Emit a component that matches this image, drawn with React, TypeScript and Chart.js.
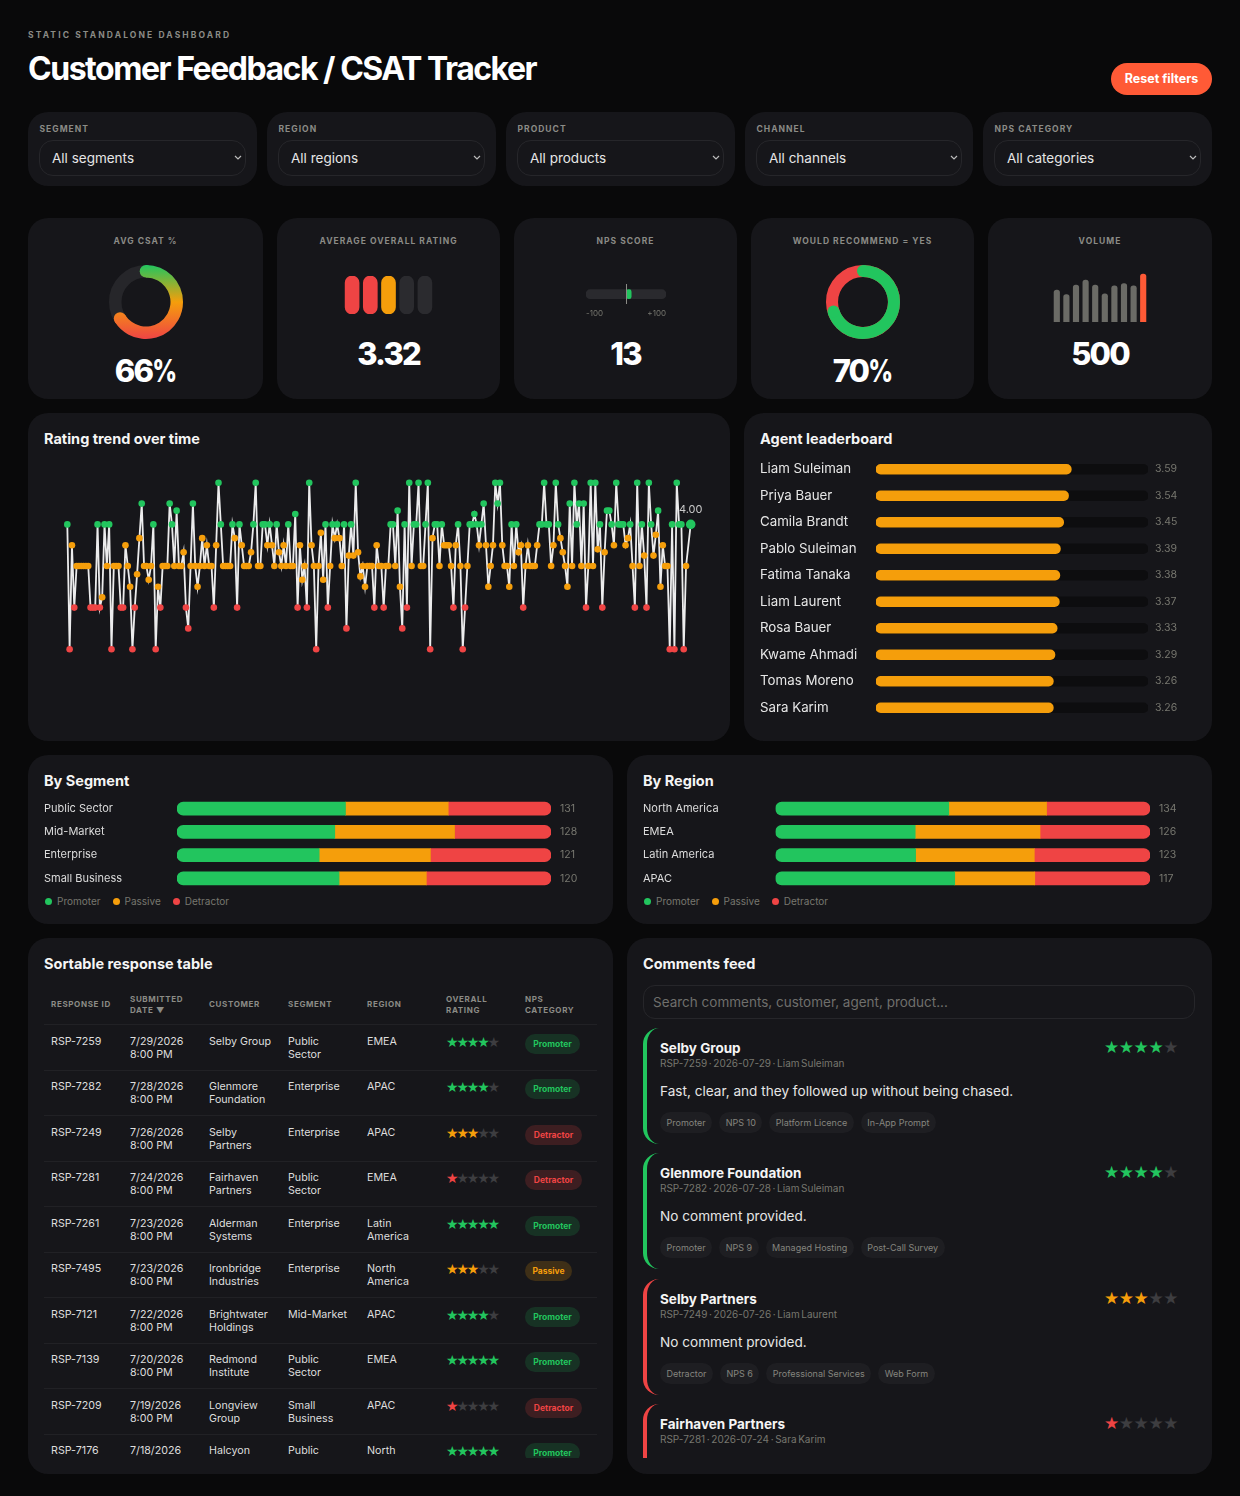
import { useEffect, useRef } from "react";
import type { CSSProperties, ReactNode } from "react";
import Chart from "chart.js/auto";

const FONT = "Inter, 'Noto Sans', sans-serif";
const GREEN = "#22c55e";
const ORANGE = "#f59e0b";
const RED = "#ef4444";
const ACCENT = "#ff5a36";
const PANEL = "#16161a";
const MUTED = "#8b8b86";

Chart.defaults.font.family = FONT;
Chart.defaults.animation = false;

const filterLabels = ["SEGMENT", "REGION", "PRODUCT", "CHANNEL", "NPS CATEGORY"];
const filterValues = ["All segments", "All regions", "All products", "All channels", "All categories"];

const csatValues = [66, 34];
const recommendValues = [70, 30];
const ratingPillValues = [1, 1, 1, 1, 1];
const ratingPillColors = [RED, RED, ORANGE, "#2b2b2f", "#2b2b2f"];
const npsScore = [13];
const npsRange: [number, number][] = [[-100, 100]];
const volumeValues = [44, 38, 51, 58, 51, 39, 50, 53, 50, 66];

// daily average rating left to right (null = no responses that day)
const ratingTrend: (number | null)[] = [
  4, 1, 3.5, 2, 3, 3, 3, 3, 3, 3, 2, 2, 2, 4, 2, 2.25, 4, 3, 4, 1, 3, 3, 3, 2, 2, 3.5, 3, 2.5, 1, 2, 2.8, 3.67, 4.5, 3, 3,
  2.67, 3, 4, 1, 2.5, 2, 3, 3, 3, 4.5, 4, 3, 4.33, 3, 3, 3.33, 2, 1.5, 3, 4.5, 3, 2.5, 3, 3.67, 3, 3.5, 3, 3, 2, 3.5, 5, 4,
  3, 3, 3, 3, 4, 3.67, 2, 4, 3.5, 3, 3, 3, 3.33, 4, 5, 3, 3, 4, 4, 3.5, 4, 3.5, 3, 4, 3.33, 3, 3.5, 3, 4, 3, 3, 4.25, 2,
  3.5, 2.67, 3, 2, 5, 3.5, 3, 1, 3, 3.8, 2.67, 4, 2, 3, 4, 3.67, 4, 3.67, 3, 4, 1.5, 3.25, 4, 3.25, 5, 3.33, 2.75, 3, 2.5,
  3, 3, 3, 2, 3.5, 3, 3, 2, 3, 3, 4, 4, 3, 4.33, 2.5, 1.5, 4, 2, 5, 3, 4, 4, 5, 3, 3, 4, 5, 1, 3.67, 4, 4, 3, 4, 3.5, 3.5,
  3.5, 3, 2, 3.5, 4, 3, 1, 2, 3, 4, 4, 4.25, 4, 3.5, 4, 4.5, 3.5, 2.5, 3, 3.5, 5, 4.5, 5, 3.5, 3, 3, 2.5, 4, 3, 4, 3.33,
  3.5, 2, 3, 3.5, 3, 3, 3, 3.5, 4, 4, 5, 4, 4, 3, 3.5, 5, 4, 3.67, 3.33, 3, 2.5, 4.5, 3, 5, 4, 4.5, 3, 4.5, 2, 3, 5, 3, 5,
  3.4, 4, 2, 3.33, 4.33, 4.33, 4, 3.5, 5, 4, 4, 4, 3.5, 3.67, 4, 3, 2, 5, 3, 4, 3.25, 2, 5, 4, 3.25, 3.75, 4.33, 2.5, 3.5,
  3, 3, 1, 4, 1, 5, 4, 4, 1, 3, null, 4,
];

const agentNames = [
  "Liam Suleiman", "Priya Bauer", "Camila Brandt", "Pablo Suleiman", "Fatima Tanaka",
  "Liam Laurent", "Rosa Bauer", "Kwame Ahmadi", "Tomas Moreno", "Sara Karim",
];
const agentRatings = [3.59, 3.54, 3.45, 3.39, 3.38, 3.37, 3.33, 3.29, 3.26, 3.26];

const segmentNames = ["Public Sector", "Mid-Market", "Enterprise", "Small Business"];
const segmentPromoters = [59, 54, 46, 52];
const segmentPassives = [36, 41, 36, 28];
const segmentDetractors = [36, 33, 39, 40];

const regionNames = ["North America", "EMEA", "Latin America", "APAC"];
const regionPromoters = [62, 47, 46, 56];
const regionPassives = [35, 42, 39, 25];
const regionDetractors = [37, 37, 38, 36];

const legendItems = [["Promoter", GREEN], ["Passive", ORANGE], ["Detractor", RED]];

const tableHeaders = ["RESPONSE ID", "SUBMITTED\nDATE ▼", "CUSTOMER", "SEGMENT", "REGION", "OVERALL\nRATING", "NPS\nCATEGORY"];
const tableRows: [string, string, string, string, string, number, string][] = [
  ["RSP-7259", "7/29/2026\n8:00 PM", "Selby Group", "Public\nSector", "EMEA", 4, "Promoter"],
  ["RSP-7282", "7/28/2026\n8:00 PM", "Glenmore\nFoundation", "Enterprise", "APAC", 4, "Promoter"],
  ["RSP-7249", "7/26/2026\n8:00 PM", "Selby\nPartners", "Enterprise", "APAC", 3, "Detractor"],
  ["RSP-7281", "7/24/2026\n8:00 PM", "Fairhaven\nPartners", "Public\nSector", "EMEA", 1, "Detractor"],
  ["RSP-7261", "7/23/2026\n8:00 PM", "Alderman\nSystems", "Enterprise", "Latin\nAmerica", 5, "Promoter"],
  ["RSP-7495", "7/23/2026\n8:00 PM", "Ironbridge\nIndustries", "Enterprise", "North\nAmerica", 3, "Passive"],
  ["RSP-7121", "7/22/2026\n8:00 PM", "Brightwater\nHoldings", "Mid-Market", "APAC", 4, "Promoter"],
  ["RSP-7139", "7/20/2026\n8:00 PM", "Redmond\nInstitute", "Public\nSector", "EMEA", 5, "Promoter"],
  ["RSP-7209", "7/19/2026\n8:00 PM", "Longview\nGroup", "Small\nBusiness", "APAC", 1, "Detractor"],
  ["RSP-7176", "7/18/2026\n8:00 PM", "Halcyon\nPartners", "Public\nSector", "North\nAmerica", 5, "Promoter"],
];

const commentRows: [string, string, string, number, string, string[]][] = [
  ["Selby Group", "RSP-7259 · 2026-07-29 · Liam Suleiman", "Fast, clear, and they followed up without being chased.", 4, GREEN, ["Promoter", "NPS 10", "Platform Licence", "In-App Prompt"]],
  ["Glenmore Foundation", "RSP-7282 · 2026-07-28 · Liam Suleiman", "No comment provided.", 4, GREEN, ["Promoter", "NPS 9", "Managed Hosting", "Post-Call Survey"]],
  ["Selby Partners", "RSP-7249 · 2026-07-26 · Liam Laurent", "No comment provided.", 3, RED, ["Detractor", "NPS 6", "Professional Services", "Web Form"]],
  ["Fairhaven Partners", "RSP-7281 · 2026-07-24 · Sara Karim", "No comment provided.", 1, RED, ["Detractor", "NPS 3", "Platform Licence", "Web Form"]],
];

const pillStyles: Record<string, [string, string, number]> = {
  Promoter: [GREEN, "rgba(34,197,94,0.16)", 55],
  Passive: [ORANGE, "rgba(245,158,11,0.18)", 47],
  Detractor: [RED, "rgba(239,68,68,0.18)", 57],
};

function starColor(rating: number) {
  return rating >= 4 ? GREEN : rating === 3 ? ORANGE : RED;
}

function pointColor(value: number) {
  return value >= 4 ? GREEN : value > 2 ? ORANGE : RED;
}

const hiddenScale = { display: false };
const noPlugins = { legend: { display: false }, tooltip: { enabled: false } };

// ring behind the value arc plus round caps on its two ends
function ringPlugin(trackColor: string, capColor: (ctx: CanvasRenderingContext2D) => CanvasGradient | string) {
  return {
    id: "ring",
    beforeDatasetsDraw(chart: any) {
      const arc = chart.getDatasetMeta(0).data[0];
      const ctx = chart.ctx;
      ctx.save();
      ctx.strokeStyle = trackColor;
      ctx.lineWidth = arc.outerRadius - arc.innerRadius;
      ctx.beginPath();
      ctx.arc(arc.x, arc.y, (arc.outerRadius + arc.innerRadius) / 2, 0, Math.PI * 2);
      ctx.stroke();
      ctx.restore();
    },
    afterDatasetsDraw(chart: any) {
      const arc = chart.getDatasetMeta(0).data[0];
      const ctx = chart.ctx;
      const r = (arc.outerRadius + arc.innerRadius) / 2;
      ctx.save();
      ctx.fillStyle = capColor(ctx);
      for (const a of [arc.startAngle, arc.endAngle]) {
        ctx.beginPath();
        ctx.arc(arc.x + Math.cos(a) * r, arc.y + Math.sin(a) * r, (arc.outerRadius - arc.innerRadius) / 2, 0, Math.PI * 2);
        ctx.fill();
      }
      ctx.restore();
    },
  };
}

function csatGradient(ctx: CanvasRenderingContext2D) {
  const g = ctx.createLinearGradient(0, 3, 0, 77);
  g.addColorStop(0, GREEN);
  g.addColorStop(0.5, ORANGE);
  g.addColorStop(1, RED);
  return g;
}

function csatConfig(): any {
  return {
    type: "doughnut",
    data: {
      labels: ["CSAT", "Rest"],
      datasets: [{
        data: csatValues,
        backgroundColor: (c: any) => (c.dataIndex === 0 ? csatGradient(c.chart.ctx) : "transparent"),
        borderWidth: 0,
      }],
    },
    options: { responsive: false, radius: 37, cutout: 26.5, plugins: noPlugins },
    plugins: [ringPlugin("#26262a", csatGradient)],
  };
}

function recommendConfig(): any {
  return {
    type: "doughnut",
    data: {
      labels: ["Yes", "No"],
      datasets: [{ data: recommendValues, backgroundColor: [GREEN, "transparent"], borderWidth: 0 }],
    },
    options: { responsive: false, radius: 37, cutout: 27, plugins: noPlugins },
    plugins: [ringPlugin(RED, () => GREEN)],
  };
}

function pillsConfig(): any {
  return {
    type: "bar",
    data: {
      labels: ["1", "2", "3", "4", "5"],
      datasets: [{ data: ratingPillValues, backgroundColor: ratingPillColors, barThickness: 14, borderRadius: 7, borderSkipped: false }],
    },
    options: { responsive: false, plugins: noPlugins, scales: { x: hiddenScale, y: { display: false, min: 0, max: 1 } } },
  };
}

function npsConfig(): any {
  return {
    type: "bar",
    data: {
      labels: ["NPS"],
      datasets: [
        { data: npsScore, backgroundColor: GREEN, barThickness: 9, grouped: false, borderRadius: 3, borderSkipped: false },
        { data: npsRange, backgroundColor: "#2a2a2e", barThickness: 9, grouped: false, borderRadius: 4.5, borderSkipped: false },
      ],
    },
    options: {
      responsive: false,
      indexAxis: "y",
      plugins: noPlugins,
      scales: {
        y: hiddenScale,
        x: {
          min: -100,
          max: 100,
          border: { display: false },
          grid: { z: 1, drawTicks: false, color: (c: any) => (c.tick && c.tick.value === 0 ? "#8b8b86" : "transparent") },
          afterFit: (scale: any) => { scale.paddingLeft = 0; scale.paddingRight = 0; },
          ticks: {
            stepSize: 100,
            align: "inner",
            maxRotation: 0,
            autoSkip: false,
            padding: 4,
            color: "#77776f",
            font: { size: 8 },
            callback: (v: number) => (v === 0 ? "" : v > 0 ? "+" + v : String(v)),
          },
        },
      },
    },
  };
}

function volumeConfig(): any {
  return {
    type: "bar",
    data: {
      labels: volumeValues.map((_, i) => String(i + 1)),
      datasets: [{
        data: volumeValues,
        backgroundColor: volumeValues.map((_, i) => (i === volumeValues.length - 1 ? ACCENT : "#6b6b66")),
        barThickness: 5.5,
        borderRadius: { topLeft: 3, topRight: 3 },
        borderSkipped: "bottom",
      }],
    },
    options: { responsive: false, plugins: noPlugins, scales: { x: hiddenScale, y: { display: false, min: 0, max: 69 } } },
  };
}

function trendConfig(): any {
  const last = ratingTrend.length - 1;
  return {
    type: "line",
    data: {
      labels: ratingTrend.map((_, i) => i),
      datasets: [{
        data: ratingTrend,
        borderColor: "rgba(255,255,255,0.92)",
        borderWidth: 1.8,
        tension: 0,
        spanGaps: true,
        pointBorderWidth: 0,
        pointRadius: (c: any) => (c.dataIndex === last ? 4.8 : 3.3),
        pointBackgroundColor: (c: any) => pointColor(c.raw ?? 0),
      }],
    },
    options: {
      responsive: false,
      clip: false,
      layout: { autoPadding: false, padding: { left: 23.3, right: 23.3 } },
      plugins: noPlugins,
      scales: { x: hiddenScale, y: { display: false, min: 0.5, max: 5.5 } },
    },
    plugins: [{
      id: "lastValue",
      afterDatasetsDraw(chart: any) {
        const p = chart.getDatasetMeta(0).data[last];
        const ctx = chart.ctx;
        ctx.save();
        ctx.fillStyle = "#c9c9c9";
        ctx.font = "11px " + FONT;
        ctx.textAlign = "center";
        ctx.textBaseline = "middle";
        ctx.fillText(Number(ratingTrend[last]).toFixed(2), p.x, p.y - 15);
        ctx.restore();
      },
    }],
  };
}

// number printed right of each row of a horizontal bar chart
function rowValues(values: number[], format: (v: number) => string, gap: number) {
  return {
    id: "rowValues",
    afterDatasetsDraw(chart: any) {
      const ctx = chart.ctx;
      ctx.save();
      ctx.fillStyle = "#77776f";
      ctx.font = "10.5px " + FONT;
      ctx.textBaseline = "middle";
      chart.getDatasetMeta(0).data.forEach((bar: any, i: number) => {
        ctx.fillText(format(values[i]), chart.chartArea.right + gap, bar.y);
      });
      ctx.restore();
    },
  };
}

// fixed label gutter on the left, no extra room above and below the rows
function labelGutter(width: number) {
  return (scale: any) => {
    scale.width = width;
    scale.paddingTop = 0;
    scale.paddingBottom = 0;
  };
}

function leaderboardConfig(): any {
  return {
    type: "bar",
    data: {
      labels: agentNames,
      datasets: [
        { data: agentRatings, backgroundColor: ORANGE, barThickness: 10, grouped: false, borderRadius: 5, borderSkipped: false },
        { data: agentNames.map(() => 5), backgroundColor: "#0d0d0f", barThickness: 10, grouped: false, borderRadius: 5, borderSkipped: false },
      ],
    },
    options: {
      responsive: false,
      indexAxis: "y",
      layout: { padding: { right: 42 } },
      plugins: noPlugins,
      scales: {
        x: { display: false, min: 0, max: 5 },
        y: {
          border: { display: false },
          grid: { display: false },
          afterFit: labelGutter(116),
          ticks: { crossAlign: "far", padding: 0, autoSkip: false, color: "#e6e6e6", font: { size: 13.3 } },
        },
      },
    },
    plugins: [rowValues(agentRatings, (v) => v.toFixed(2), 7)],
  };
}

function sentimentConfig(names: string[], promoters: number[], passives: number[], detractors: number[], labelWidth: number): any {
  const totals = names.map((_, i) => promoters[i] + passives[i] + detractors[i]);
  const promoterEnd = names.map((_, i) => (promoters[i] / totals[i]) * 100);
  const passiveEnd = names.map((_, i) => ((promoters[i] + passives[i]) / totals[i]) * 100);
  const bar = { barThickness: 13, grouped: false, borderSkipped: false };
  return {
    type: "bar",
    data: {
      labels: names,
      datasets: [
        { label: "Promoter", data: names.map((_, i) => [0, promoterEnd[i]]), backgroundColor: GREEN, borderRadius: { topLeft: 6.5, bottomLeft: 6.5 }, ...bar },
        { label: "Passive", data: names.map((_, i) => [promoterEnd[i], passiveEnd[i]]), backgroundColor: ORANGE, borderRadius: 0, ...bar },
        { label: "Detractor", data: names.map((_, i) => [passiveEnd[i], 100]), backgroundColor: RED, borderRadius: { topRight: 6.5, bottomRight: 6.5 }, ...bar },
      ],
    },
    options: {
      responsive: false,
      indexAxis: "y",
      layout: { padding: { right: 46 } },
      plugins: noPlugins,
      scales: {
        x: { display: false, min: 0, max: 100 },
        y: {
          border: { display: false },
          grid: { display: false },
          afterFit: labelGutter(labelWidth),
          ticks: { crossAlign: "far", padding: 0, autoSkip: false, color: "#dcdcdc", font: { size: 11 } },
        },
      },
    },
    plugins: [rowValues(totals, (v) => String(v), 9)],
  };
}

function ChartBox({ x, y, w, h, config }: { x: number; y: number; w: number; h: number; config: () => any }) {
  const ref = useRef<HTMLCanvasElement>(null);
  useEffect(() => {
    if (!ref.current) return;
    const chart = new Chart(ref.current, config());
    return () => chart.destroy();
  }, []);
  return <canvas ref={ref} width={w} height={h} style={{ position: "absolute", left: x, top: y, width: w, height: h }} />;
}

function Panel({ x, y, w, h, r = 20 }: { x: number; y: number; w: number; h: number; r?: number }) {
  return <div style={{ position: "absolute", left: x, top: y, width: w, height: h, borderRadius: r, background: PANEL }} />;
}

// text placed by the vertical centre of its line
function Txt({ x, y, center, style, children }: { x: number; y: number; center?: boolean; style?: CSSProperties; children: ReactNode }) {
  return (
    <div style={{ position: "absolute", left: x, top: y, whiteSpace: "nowrap", transform: `translate(${center ? "-50%" : "0"},-50%)`, ...style }}>
      {children}
    </div>
  );
}

const capsStyle: CSSProperties = { fontSize: 8.5, fontWeight: 700, letterSpacing: "0.12em", color: MUTED };
const headingStyle: CSSProperties = { fontSize: 14.5, fontWeight: 700, color: "#f5f5f5" };
const bigStyle: CSSProperties = { fontSize: 31, fontWeight: 800, color: "#fff", letterSpacing: "-0.06em" };

// the percent sign in the reference is much narrower than this font's
function BigValue({ text }: { text: string }) {
  if (!text.endsWith("%")) return <>{text}</>;
  return (
    <>
      {text.slice(0, -1)}
      <span style={{ display: "inline-block", transform: "scaleX(0.78)", transformOrigin: "left", marginRight: -6 }}>%</span>
    </>
  );
}

function Stars({ rating, size, gap }: { rating: number; size: number; gap: number }) {
  return (
    <div style={{ display: "flex", fontFamily: "'DejaVu Sans'", fontSize: size, lineHeight: 1 }}>
      {[1, 2, 3, 4, 5].map((n) => (
        <span key={n} style={{ width: gap, textAlign: "center", color: n <= rating ? starColor(rating) : "#3d3d40" }}>★</span>
      ))}
    </div>
  );
}

function Legend({ x, y }: { x: number; y: number }) {
  return (
    <div style={{ position: "absolute", left: x, top: y, display: "flex", transform: "translateY(-50%)" }}>
      {legendItems.map(([name, color]) => (
        <div key={name} style={{ display: "flex", alignItems: "center", marginRight: 12, fontSize: 10, color: "#77776f" }}>
          <span style={{ width: 7, height: 7, borderRadius: 4, background: color, marginRight: 5 }} />
          {name}
        </div>
      ))}
    </div>
  );
}

function ResponseTable() {
  const col = "79px";
  const grid: CSSProperties = { display: "grid", gridTemplateColumns: `repeat(7, ${col})`, paddingLeft: 7, borderBottom: "1px solid #212125", boxSizing: "border-box" };
  return (
    <div style={{ position: "absolute", left: 44, top: 985, width: 553, height: 473, overflow: "hidden" }}>
      <div style={{ ...grid, height: 40, alignItems: "center" }}>
        {tableHeaders.map((h) => (
          <div key={h} style={{ ...capsStyle, fontSize: 8, letterSpacing: "0.08em", lineHeight: "11px", whiteSpace: "pre-line" }}>{h}</div>
        ))}
      </div>
      {tableRows.map((row) => (
        <div key={row[0]} style={{ ...grid, height: 45.5, paddingTop: 9.5, fontSize: 10.7, lineHeight: "13.4px", color: "#dedede" }}>
          <div>{row[0]}</div>
          <div style={{ whiteSpace: "pre-line" }}>{row[1]}</div>
          <div style={{ whiteSpace: "pre-line" }}>{row[2]}</div>
          <div style={{ whiteSpace: "pre-line" }}>{row[3]}</div>
          <div style={{ whiteSpace: "pre-line" }}>{row[4]}</div>
          <div><Stars rating={row[5]} size={14} gap={10.4} /></div>
          <div>
            <div style={{ width: pillStyles[row[6]][2], height: 20, marginTop: -1, borderRadius: 10, background: pillStyles[row[6]][1], color: pillStyles[row[6]][0], fontSize: 8.5, fontWeight: 700, lineHeight: "20px", textAlign: "center" }}>
              {row[6]}
            </div>
          </div>
        </div>
      ))}
    </div>
  );
}

function CommentsFeed() {
  return (
    <div style={{ position: "absolute", left: 643, top: 1028, width: 553, height: 430, overflow: "hidden" }}>
      {commentRows.map(([name, meta, text, rating, color, tags]) => (
        <div key={name} style={{ position: "relative", height: 116, marginBottom: 9.3, boxSizing: "border-box", borderLeft: `4px solid ${color}`, borderRadius: 16 }}>
          <Txt x={13} y={20} style={{ fontSize: 13.5, fontWeight: 700, color: "#f5f5f5" }}>{name}</Txt>
          <Txt x={13} y={35} style={{ fontSize: 10, wordSpacing: "-1.2px", color: "#77776f" }}>{meta}</Txt>
          <Txt x={13} y={63} style={{ fontSize: 13.6, color: "#e6e6e6" }}>{text}</Txt>
          <div style={{ position: "absolute", left: 457, top: 11 }}><Stars rating={rating} size={17} gap={14.8} /></div>
          <div style={{ position: "absolute", left: 13, top: 84, display: "flex", gap: 7 }}>
            {tags.map((t) => (
              <div key={t} style={{ height: 21, padding: "0 6.5px", borderRadius: 10.5, background: "#1e1e22", color: "#85857f", fontSize: 9, lineHeight: "21px" }}>{t}</div>
            ))}
          </div>
        </div>
      ))}
    </div>
  );
}

const filterBoxes = [[28, 229], [267, 229], [506, 229], [745, 228], [983, 229]];
const kpiBoxes = [[28, 235], [277, 223], [514, 223], [751, 223], [988, 224]];
const kpiTitles = ["AVG CSAT %", "AVERAGE OVERALL RATING", "NPS SCORE", "WOULD RECOMMEND = YES", "VOLUME"];
const kpiValues = ["66%", "3.32", "13", "70%", "500"];
const kpiValueY = [370, 353, 353, 370, 353];

export default function App() {
  return (
    <div style={{ position: "relative", width: 1240, height: 1496, overflow: "hidden", background: "#09090a", fontFamily: FONT }}>
      <style>{"body{margin:0;background:#09090a}"}</style>

      <Txt x={28} y={34.5} style={{ ...capsStyle, letterSpacing: "0.247em" }}>STATIC STANDALONE DASHBOARD</Txt>
      <Txt x={28} y={68} style={{ fontSize: 32, fontWeight: 700, color: "#fff", letterSpacing: "-0.046em" }}>Customer Feedback / CSAT Tracker</Txt>
      <div style={{ position: "absolute", left: 1111, top: 63, width: 101, height: 32, borderRadius: 16, background: ACCENT, color: "#fff", fontSize: 12.5, fontWeight: 700, lineHeight: "32px", textAlign: "center" }}>Reset filters</div>

      {filterBoxes.map(([x, w], i) => (
        <div key={filterLabels[i]}>
          <Panel x={x} y={112} w={w} h={74} />
          <Txt x={x + 11.5} y={128.5} style={capsStyle}>{filterLabels[i]}</Txt>
          <div style={{ position: "absolute", left: x + 11, top: 140, width: w - 22, height: 36, boxSizing: "border-box", border: "1px solid #26262a", borderRadius: 14 }} />
          <Txt x={x + 24} y={158} style={{ fontSize: 13.5, color: "#e6e6e6" }}>{filterValues[i]}</Txt>
          <svg width="8" height="6" style={{ position: "absolute", left: x + w - 23, top: 155 }}>
            <path d="M1 1 L4 4 L7 1" fill="none" stroke="#bbb" strokeWidth="1.2" />
          </svg>
        </div>
      ))}

      {kpiBoxes.map(([x, w], i) => (
        <div key={kpiTitles[i]}>
          <Panel x={x} y={218} w={w} h={181} />
          <Txt x={x + w / 2} y={240.5} center style={capsStyle}>{kpiTitles[i]}</Txt>
          <Txt x={x + w / 2} y={kpiValueY[i]} center style={bigStyle}><BigValue text={kpiValues[i]} /></Txt>
        </div>
      ))}
      <ChartBox x={106} y={262} w={80} h={80} config={csatConfig} />
      <ChartBox x={343} y={276} w={91} h={38} config={pillsConfig} />
      <ChartBox x={586} y={284} w={80} h={38} config={npsConfig} />
      <ChartBox x={823} y={262} w={80} h={80} config={recommendConfig} />
      <ChartBox x={1052} y={272} w={96} h={50} config={volumeConfig} />

      <Panel x={28} y={413} w={702} h={328} />
      <Txt x={44} y={437.5} style={headingStyle}>Rating trend over time</Txt>
      <ChartBox x={44} y={462} w={670} h={208} config={trendConfig} />

      <Panel x={744} y={413} w={468} h={328} />
      <Txt x={760} y={437.5} style={headingStyle}>Agent leaderboard</Txt>
      <ChartBox x={760} y={456} w={430} h={265} config={leaderboardConfig} />

      <Panel x={28} y={755} w={585} h={169} />
      <Txt x={44} y={779.5} style={headingStyle}>By Segment</Txt>
      <ChartBox x={44} y={797} w={553} h={93} config={() => sentimentConfig(segmentNames, segmentPromoters, segmentPassives, segmentDetractors, 133)} />
      <Legend x={45} y={901} />

      <Panel x={627} y={755} w={585} h={169} />
      <Txt x={643} y={779.5} style={headingStyle}>By Region</Txt>
      <ChartBox x={643} y={797} w={553} h={93} config={() => sentimentConfig(regionNames, regionPromoters, regionPassives, regionDetractors, 132.5)} />
      <Legend x={644} y={901} />

      <Panel x={28} y={938} w={585} h={536} />
      <Txt x={44} y={962.5} style={headingStyle}>Sortable response table</Txt>
      <ResponseTable />

      <Panel x={627} y={938} w={585} h={536} />
      <Txt x={643} y={962.5} style={headingStyle}>Comments feed</Txt>
      <div style={{ position: "absolute", left: 643, top: 985, width: 552, height: 34, boxSizing: "border-box", border: "1px solid #26262a", borderRadius: 12 }} />
      <Txt x={653} y={1002} style={{ fontSize: 13.5, color: "#6f6f6c" }}>Search comments, customer, agent, product...</Txt>
      <CommentsFeed />
    </div>
  );
}
